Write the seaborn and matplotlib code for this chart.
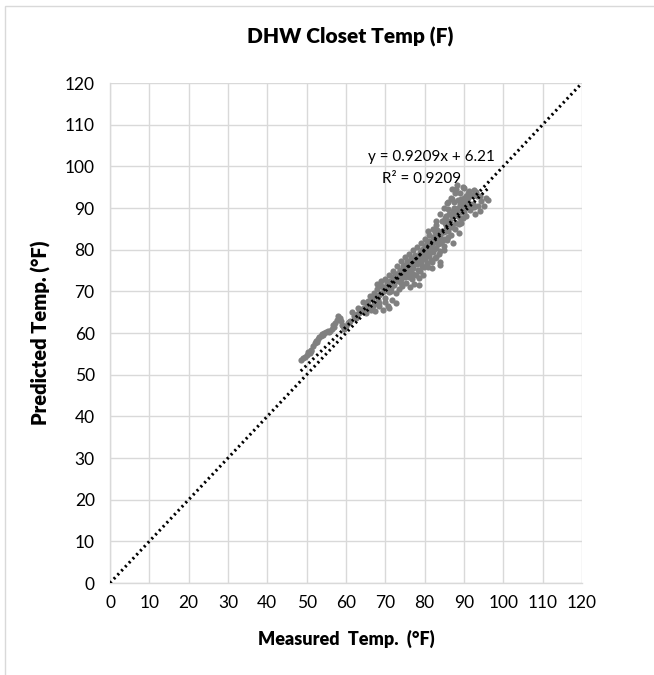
import matplotlib
matplotlib.use("Agg")
import matplotlib.pyplot as plt
import seaborn as sns
import pandas as pd
from matplotlib.patches import Rectangle

# ---- data ----
measured = [
    48.5, 49.0, 49.5, 50.0, 50.3, 50.8, 51.2, 51.6, 52.0, 52.3, 52.8, 53.2, 53.6, 54.0, 54.5,
    55.0, 55.5, 56.0, 56.4, 56.8, 57.2, 57.6, 58.0, 58.4, 58.8, 59.2, 59.6, 60.0, 60.5, 61.0,
    61.5, 62.0, 62.5, 63.0, 63.4, 63.8, 64.2, 64.6, 65.0, 65.3, 65.7, 66.0, 66.3, 66.6, 67.0,
    67.3, 67.6, 68.0, 68.2, 68.5, 68.8, 69.0, 69.3, 69.6, 70.0, 70.3, 70.6, 70.9, 71.2, 71.5,
    71.8, 72.0, 72.3, 72.6, 72.9, 73.2, 73.5, 73.8, 74.0, 74.3, 74.6, 74.9, 75.2, 75.5, 75.8,
    76.1, 76.4, 76.7, 77.0, 77.3, 77.6, 77.9, 78.2, 78.5, 78.8, 79.1, 79.4, 79.7, 80.0, 80.3,
    80.6, 80.9, 81.2, 81.5, 81.8, 82.1, 82.4, 82.7, 83.0, 83.3, 83.6, 83.9, 84.2, 84.5, 84.8,
    85.1, 85.4, 85.7, 86.0, 86.3, 86.6, 86.9, 87.2, 87.5, 87.8, 88.1, 88.4, 88.7, 89.0, 89.3,
    89.6, 90.0, 90.4, 90.8, 91.2, 91.6, 92.0, 92.4, 92.8, 93.2, 93.6, 94.0, 94.4, 95.0, 95.5,
    96.2,
    70.0, 70.5, 71.0, 71.5, 72.0, 72.5, 73.0, 73.5, 74.0, 74.5, 75.0, 75.5, 76.0, 76.5, 77.0,
    77.5, 78.0, 78.5, 79.0, 79.5, 80.0, 80.5, 81.0, 81.5, 82.0, 82.5, 83.0, 83.5, 84.0, 84.5,
    85.0, 85.5, 86.0, 86.5, 87.0, 87.5, 88.0, 88.5, 89.0, 89.5, 90.0, 90.5, 91.0, 91.5,
    74.0, 75.0, 76.0, 77.0, 78.0, 79.0, 80.0, 81.0, 82.0, 83.0, 84.0, 85.0, 86.0, 87.0, 88.0,
    89.0, 90.0,
    66.0, 67.0, 68.0, 69.0, 70.0, 71.0, 72.0, 73.0, 74.0, 75.0, 76.0, 77.0, 78.0, 79.0, 80.0,
    81.0, 82.0, 83.0, 84.0, 85.0, 86.0, 87.0, 88.0, 89.0, 90.0, 91.0,
    83.8, 78.6, 76.2, 72.8, 71.0, 69.8, 68.4, 66.8, 93.0, 94.0, 92.5, 89.8, 87.0, 86.0,
    68.5, 69.5, 70.5, 71.5, 72.5, 73.5, 74.5, 75.5, 76.5, 77.5, 78.5, 79.5, 80.5, 81.5, 82.5,
    83.5, 84.5, 85.5, 86.5, 87.5, 88.5, 89.5, 90.5, 91.5, 92.5,
    76.8, 77.8, 78.8, 79.8, 80.8, 81.8, 82.8, 83.8, 84.8, 85.8, 86.8, 87.8, 88.8, 89.8, 79.2,
    81.2, 83.2, 85.2, 87.2, 89.2, 74.8, 73.8, 72.8, 75.8,
    51.0, 52.5, 54.2, 55.8, 57.0, 59.0, 60.8, 62.8, 64.0, 65.5,
]
predicted = [
    53.5, 54.0, 54.3, 54.8, 55.5, 55.2, 56.0, 56.8, 57.5, 58.2, 58.6, 59.0, 59.4, 59.8, 60.0,
    60.3, 60.6, 60.5, 61.0, 62.0, 62.4, 63.2, 64.2, 63.6, 62.8, 61.6, 61.0, 61.8, 62.5, 63.0,
    65.0, 64.2, 63.5, 66.0, 64.8, 65.5, 67.4, 66.0, 64.8, 67.0, 67.8, 66.2, 65.5, 68.4, 67.0,
    65.2, 69.0, 70.5, 68.0, 66.5, 69.5, 71.4, 65.5, 70.0, 68.5, 71.8, 66.4, 69.8, 72.5, 70.8,
    68.0, 73.4, 71.5, 69.5, 74.2, 72.4, 70.5, 75.2, 73.0, 71.2, 76.0, 74.0, 72.0, 77.2, 75.0,
    73.4, 78.0, 76.2, 74.2, 71.8, 78.8, 77.0, 75.2, 73.2, 79.5, 77.8, 76.0, 74.0, 81.0, 78.6,
    76.8, 84.4, 79.4, 77.5, 75.5, 83.0, 80.2, 78.0, 86.0, 81.4, 79.0, 76.4, 84.0, 82.0, 80.0,
    87.5, 85.0, 91.2, 83.0, 88.5, 92.4, 86.0, 81.5, 90.0, 93.6, 95.6, 88.0, 84.0, 91.0, 86.5,
    89.0, 92.5, 88.0, 90.8, 94.0, 89.5, 93.2, 91.0, 88.5, 92.8, 90.5, 89.2, 91.6, 90.4, 92.4,
    92.0,
    70.5, 71.0, 71.5, 72.6, 72.0, 73.0, 73.5, 74.0, 74.5, 74.8, 75.5, 75.8, 76.5, 76.8, 77.5,
    77.2, 78.0, 78.5, 79.0, 78.6, 79.5, 80.0, 80.6, 81.0, 81.5, 82.4, 82.8, 83.5, 83.0, 84.5,
    84.2, 86.0, 86.8, 87.0, 88.0, 88.5, 89.2, 90.0, 89.5, 91.5, 90.5, 91.8, 92.5, 91.0,
    72.0, 73.5, 74.5, 75.5, 76.5, 77.0, 77.8, 78.5, 79.5, 80.5, 81.5, 82.5, 84.5, 85.5, 86.5,
    87.5, 89.0,
    68.8, 69.5, 71.8, 72.5, 73.0, 74.0, 75.0, 76.0, 77.2, 78.2, 79.0, 80.0, 80.6, 81.5, 82.5,
    83.5, 85.0, 87.0, 88.5, 90.0, 91.5, 92.2, 94.5, 93.6, 94.8, 93.5,
    77.0, 71.5, 71.0, 67.2, 66.0, 67.4, 67.2, 66.6, 93.8, 93.0, 94.4, 95.0, 94.6, 89.8,
    69.2, 71.0, 72.2, 70.2, 74.2, 72.8, 73.6, 76.5, 75.2, 78.6, 77.4, 80.2, 81.6, 79.8, 84.2,
    82.2, 86.8, 88.2, 85.6, 91.5, 92.0, 90.2, 93.0, 90.0, 90.2,
    73.0, 74.0, 74.8, 75.8, 75.8, 77.0, 78.2, 79.6, 81.0, 82.4, 83.6, 85.0, 86.2, 87.6, 80.0,
    82.0, 84.8, 86.4, 89.4, 92.2, 76.4, 74.8, 73.2, 74.0,
    55.6, 57.8, 59.6, 60.2, 61.4, 62.0, 62.6, 64.6, 65.8, 66.4,
]
trend_slope = 0.9209
trend_intercept = 6.21
r_squared = 0.9209
identity_x = [0, 120]
ticks = [0, 10, 20, 30, 40, 50, 60, 70, 80, 90, 100, 110, 120]

title = "DHW Closet Temp (F)"
xlabel = "Measured  Temp.  (°F)"
ylabel = "Predicted Temp. (°F)"

df = pd.DataFrame({"measured": measured, "predicted": predicted})
xmin, xmax = min(measured), max(measured)
trend_df = pd.DataFrame({"x": [xmin, xmax],
                         "y": [trend_slope * xmin + trend_intercept,
                               trend_slope * xmax + trend_intercept]})
ident_df = pd.DataFrame({"x": identity_x, "y": identity_x})

sns.set_theme(style="white")
plt.rcParams["font.family"] = ["Lato", "DejaVu Sans"]

fig = plt.figure(figsize=(6.54, 6.75), dpi=100)
ax = fig.add_axes([110 / 654, 1 - 583 / 675, 472 / 654, 500 / 675])

sns.scatterplot(data=df, x="measured", y="predicted", ax=ax, color="#808080",
                s=20, linewidth=0, zorder=3)
sns.lineplot(data=ident_df, x="x", y="y", ax=ax, color="black", linewidth=2.2,
             linestyle=(0, (0.7, 1.1)), zorder=4)
sns.lineplot(data=trend_df, x="x", y="y", ax=ax, color="black", linewidth=2.2,
             linestyle=(0, (0.7, 1.1)), zorder=4)

ax.set_xlim(0, 120)
ax.set_ylim(0, 120)
ax.set_xticks(ticks)
ax.set_yticks(ticks)
ax.set_xticklabels([str(t) for t in ticks], fontsize=12.5, color="black")
ax.set_yticklabels([str(t) for t in ticks], fontsize=12.5, color="black")
ax.tick_params(axis="x", length=0, pad=9)
ax.tick_params(axis="y", length=0, pad=11)
ax.grid(True, color="#D9D9D9", linewidth=1)
ax.set_axisbelow(True)
for side in ["top", "right"]:
    ax.spines[side].set_visible(False)
for side in ["left", "bottom"]:
    ax.spines[side].set_color("#D9D9D9")
    ax.spines[side].set_linewidth(1)

ax.set_xlabel(xlabel, fontsize=13, fontweight="heavy", labelpad=13, color="black")
ax.set_ylabel(ylabel, fontsize=14.5, fontweight="heavy", labelpad=10, color="black")

fig.text(350 / 654, 1 - 37 / 675, title, ha="center", va="center",
         fontsize=15, fontweight="heavy", color="black")

ax.text(81.8, 102.3, f"y = {trend_slope}x + {trend_intercept}", ha="center",
        va="center", fontsize=11, color="black")
ax.text(79.3, 97.0, f"R² = {r_squared}", ha="center", va="center",
        fontsize=11, color="black")

fig.patches.append(Rectangle((5 / 654, -0.05), 1.2, 1 - 6 / 675 + 0.05,
                             transform=fig.transFigure, fill=False,
                             edgecolor="#D9D9D9", linewidth=1))

fig.savefig("out.png", dpi=100)
